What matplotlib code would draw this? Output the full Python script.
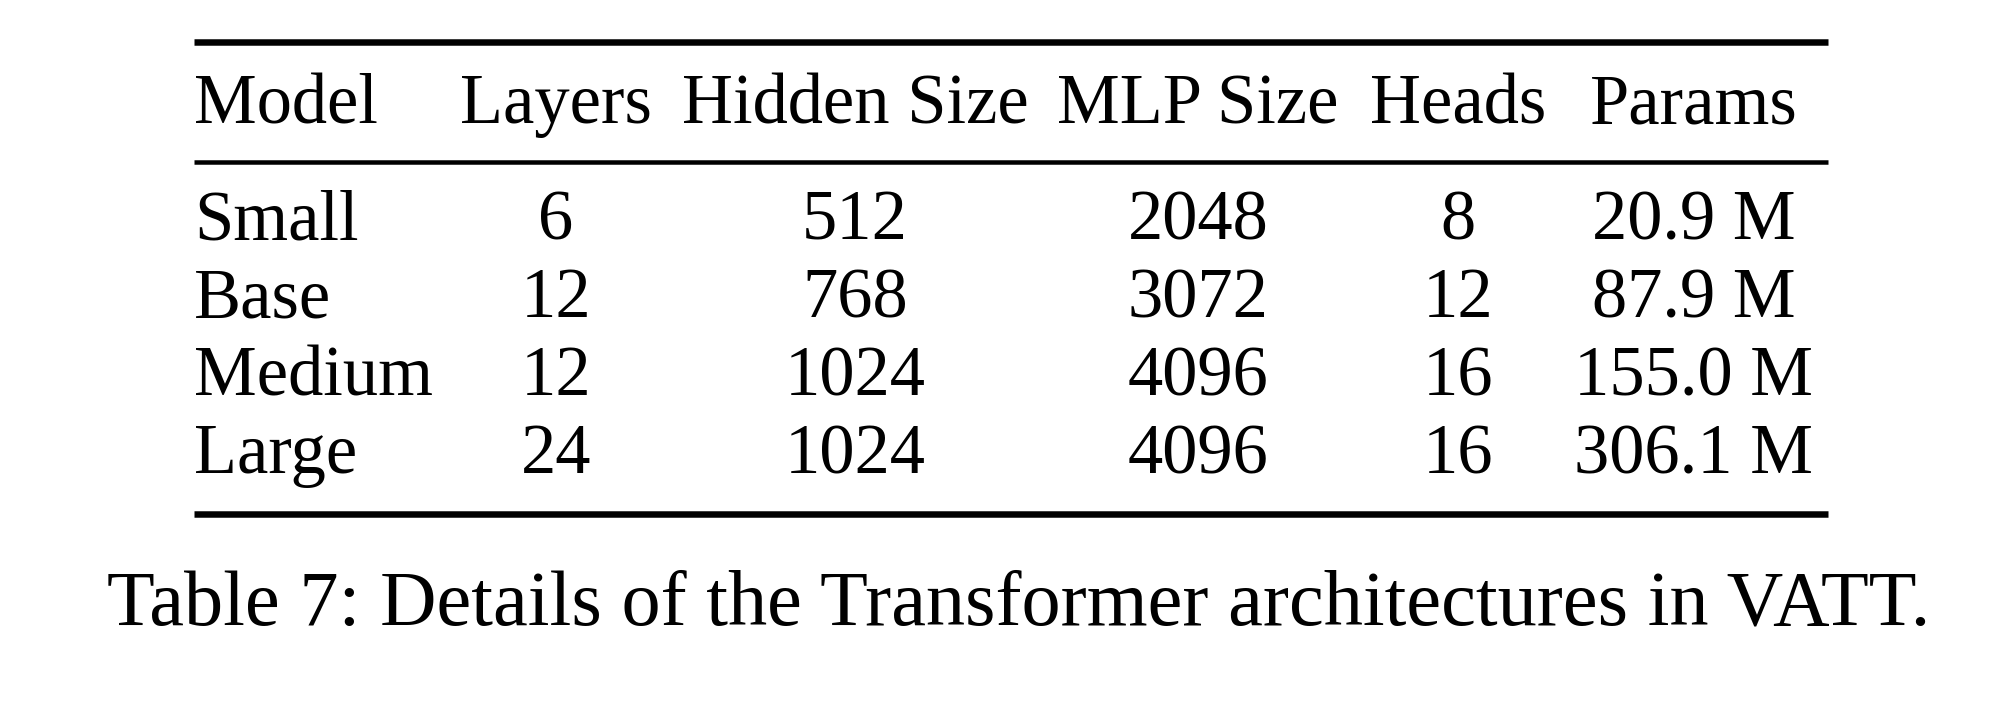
import matplotlib
matplotlib.use("Agg")
import matplotlib.pyplot as plt

# ---- data ----
headers = ["Model", "Layers", "Hidden Size", "MLP Size", "Heads", "Params"]
models = ["Small", "Base", "Medium", "Large"]
layers = [6, 12, 12, 24]
hidden_size = [512, 768, 1024, 1024]
mlp_size = [2048, 3072, 4096, 4096]
heads = [8, 12, 16, 16]
params = ["20.9 M", "87.9 M", "155.0 M", "306.1 M"]
caption = "Table 7: Details of the Transformer architectures in VATT."

# ---- layout (pixel coordinates) ----
W, H = 2000, 706
fig = plt.figure(figsize=(W / 100, H / 100), dpi=100)
ax = fig.add_axes([0, 0, 1, 1])
ax.set_xlim(0, W)
ax.set_ylim(H, 0)
ax.axis("off")

font = "Liberation Serif"
fs = 50.8
cap_fs = 56.3

left, right = 194, 1828
col_x = [194, 556, 855, 1198, 1458, 1694]
col_ha = ["left", "center", "center", "center", "center", "center"]
header_base = 123
row_base = [240, 317, 395, 473]

px = 0.72  # points per pixel
ax.hlines(41.5, left, right, color="black", lw=6.5 * px)
ax.hlines(162, left, right, color="black", lw=4.5 * px)
ax.hlines(514, left, right, color="black", lw=6.5 * px)

for x, ha, h in zip(col_x, col_ha, headers):
    ax.text(x, header_base, h, ha=ha, va="baseline", fontsize=fs, family=font)

columns = [models, layers, hidden_size, mlp_size, heads, params]
for i in range(len(models)):
    for x, ha, col in zip(col_x, col_ha, columns):
        ax.text(x, row_base[i], str(col[i]), ha=ha, va="baseline",
                fontsize=fs, family=font)

ax.text((112 + 1926) / 2, 624, caption, ha="center", va="baseline",
        fontsize=cap_fs, family=font)

fig.savefig("out.png", dpi=100, facecolor="white")
